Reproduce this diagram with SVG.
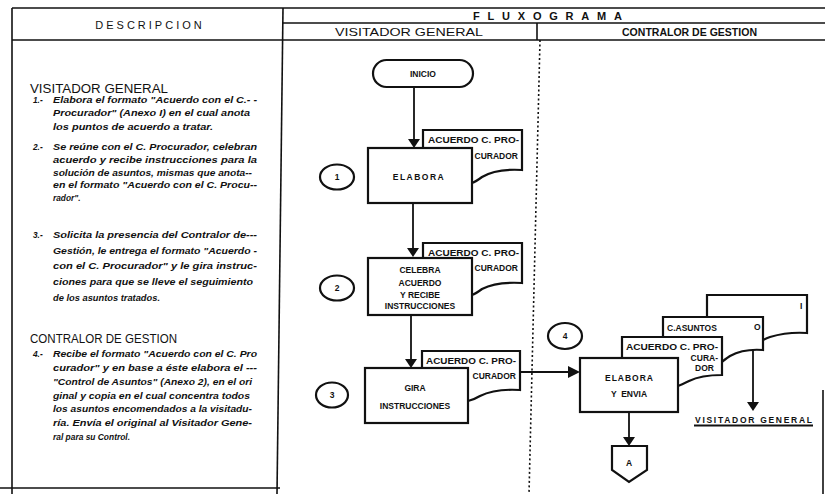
<svg xmlns="http://www.w3.org/2000/svg" width="825" height="494" viewBox="0 0 825 494">
<style>
.frame{stroke:#111;stroke-width:1.6;fill:none}
.dot{stroke:#111;stroke-width:1.6;fill:none;stroke-dasharray:2 2.5}
.ln{stroke:#111;stroke-width:1.8;fill:none}
.box{fill:#fff;stroke:#111;stroke-width:2.2}
.doc{fill:#fff;stroke:#111;stroke-width:2.2}
.arr{fill:#111}
.h{font-family:"Liberation Sans",Arial,sans-serif;fill:#111}
.ft{font-family:"Liberation Sans",Arial,sans-serif;font-weight:bold;fill:#111;font-size:8.5px}
.d{font-family:"Liberation Sans",Arial,sans-serif;font-style:italic;font-weight:bold;font-size:8.3px;fill:#111}
</style>
<defs>
<path id="ad" d="M-6,0 L6,0 L0,9 Z"/>
</defs>
<rect width="825" height="494" fill="#fff"/>
<g id="frame">
<line class="frame" x1="12" y1="8" x2="825" y2="8"/>
<line class="frame" x1="283" y1="23" x2="825" y2="23"/>
<line class="frame" x1="12" y1="40" x2="825" y2="40"/>
<line class="frame" x1="12" y1="8" x2="12" y2="494"/>
<line class="frame" x1="283" y1="8" x2="277" y2="494"/>
<line class="frame" x1="537" y1="23" x2="537" y2="40"/>
<line class="dot" x1="540" y1="40" x2="529" y2="494"/>
<line class="frame" x1="823" y1="390" x2="823" y2="494"/>
<line class="frame" x1="0" y1="488" x2="280" y2="488"/>
<text class="h" x="150" y="29" font-size="11" text-anchor="middle" letter-spacing="3">DESCRIPCION</text>
<text class="h" x="473" y="20" font-size="11" font-weight="bold" textLength="149" lengthAdjust="spacing">FLUXOGRAMA</text>
<text class="h" x="335" y="36" font-size="11" textLength="148" lengthAdjust="spacingAndGlyphs">VISITADOR GENERAL</text>
<text class="h" x="622" y="36" font-size="11" font-weight="bold" textLength="135" lengthAdjust="spacingAndGlyphs">CONTRALOR DE GESTION</text>
</g>
<g id="descripcion">
<text class="h" x="30" y="93" font-size="12.5" textLength="138" lengthAdjust="spacingAndGlyphs">VISITADOR GENERAL</text>
<text class="d" x="33" y="103">1.-</text>
<text class="d" x="53" y="103" textLength="204" lengthAdjust="spacingAndGlyphs">Elabora el formato "Acuerdo con el C.- -</text>
<text class="d" x="53" y="116" textLength="197" lengthAdjust="spacingAndGlyphs">Procurador" (Anexo I) en el cual anota</text>
<text class="d" x="53" y="130" textLength="160" lengthAdjust="spacingAndGlyphs">los puntos de acuerdo a tratar.</text>
<text class="d" x="33" y="150">2.-</text>
<text class="d" x="53" y="150" textLength="204" lengthAdjust="spacingAndGlyphs">Se reúne con el C. Procurador, celebran</text>
<text class="d" x="53" y="163" textLength="204" lengthAdjust="spacingAndGlyphs">acuerdo y recibe instrucciones para la</text>
<text class="d" x="53" y="176" textLength="199" lengthAdjust="spacingAndGlyphs">solución de asuntos, mismas que anota--</text>
<text class="d" x="53" y="188" textLength="204" lengthAdjust="spacingAndGlyphs">en el formato "Acuerdo con el C. Procu--</text>
<text class="d" x="53" y="201">rador".</text>
<text class="d" x="33" y="238">3.-</text>
<text class="d" x="53" y="238" textLength="204" lengthAdjust="spacingAndGlyphs">Solicita la presencia del Contralor de---</text>
<text class="d" x="53" y="254" textLength="204" lengthAdjust="spacingAndGlyphs">Gestión, le entrega el formato "Acuerdo -</text>
<text class="d" x="53" y="269" textLength="204" lengthAdjust="spacingAndGlyphs">con el C. Procurador" y le gira instruc-</text>
<text class="d" x="53" y="285" textLength="200" lengthAdjust="spacingAndGlyphs">ciones para que se lleve el seguimiento</text>
<text class="d" x="53" y="301" textLength="107" lengthAdjust="spacingAndGlyphs">de los asuntos tratados.</text>
<text class="h" x="30" y="343" font-size="12.5" textLength="147" lengthAdjust="spacingAndGlyphs">CONTRALOR  DE  GESTION</text>
<text class="d" x="33" y="357">4.-</text>
<text class="d" x="53" y="357" textLength="204" lengthAdjust="spacingAndGlyphs">Recibe el formato "Acuerdo con el C. Pro</text>
<text class="d" x="53" y="371" textLength="204" lengthAdjust="spacingAndGlyphs">curador" y en base a éste elabora el ---</text>
<text class="d" x="53" y="385" textLength="199" lengthAdjust="spacingAndGlyphs">"Control de Asuntos" (Anexo 2), en el ori</text>
<text class="d" x="53" y="399" textLength="197" lengthAdjust="spacingAndGlyphs">ginal y copia en el cual concentra todos</text>
<text class="d" x="53" y="412" textLength="199" lengthAdjust="spacingAndGlyphs">los asuntos encomendados a la visitadu-</text>
<text class="d" x="53" y="426" textLength="199" lengthAdjust="spacingAndGlyphs">ría. Envía el original al Visitador Gene-</text>
<text class="d" x="53" y="440" textLength="77" lengthAdjust="spacingAndGlyphs">ral para su Control.</text>
</g>
<g id="connectors">
<line class="ln" x1="414" y1="87" x2="414" y2="140"/>
<use href="#ad" class="arr" x="414" y="139"/>
<line class="ln" x1="413" y1="203" x2="413" y2="249"/>
<use href="#ad" class="arr" x="413" y="248"/>
<line class="ln" x1="411" y1="315" x2="411" y2="360"/>
<use href="#ad" class="arr" x="411" y="359"/>
<line class="ln" x1="520" y1="372" x2="570" y2="372"/>
<path class="arr" d="M568,366 L580,372 L568,378 Z"/>
<line class="ln" x1="629" y1="412" x2="629" y2="439"/>
<use href="#ad" class="arr" x="629" y="437"/>
<line class="ln" x1="753" y1="350" x2="753" y2="404"/>
<use href="#ad" class="arr" x="753" y="402"/>
</g>
<g id="inicio">
<rect class="box" x="373" y="60" width="100" height="27" rx="13.5"/>
<text class="ft" x="423" y="77" text-anchor="middle">INICIO</text>
</g>
<g id="doc1">
<path class="doc" d="M423,130 H522 V170 C505,169 492,171 482,177 C478,180 475,182 472,183 L423,190 Z"/>
<text class="ft" x="428" y="143" textLength="91" lengthAdjust="spacingAndGlyphs">ACUERDO C. PRO-</text>
<text class="ft" x="518" y="159" text-anchor="end">CURADOR</text>
</g>
<g id="n1">
<rect class="box" x="368" y="148" width="104" height="55"/>
<text class="ft" x="419" y="180" text-anchor="middle" font-size="9" letter-spacing="1.5">ELABORA</text>
</g>
<g id="c1">
<ellipse class="box" cx="337" cy="177" rx="17" ry="12.5"/>
<text class="ft" x="337" y="180" text-anchor="middle">1</text>
</g>
<g id="doc2">
<path class="doc" d="M423,243 H522 V283 C505,282 492,284 482,289 C478,292 475,294 472,295 L423,300 Z"/>
<text class="ft" x="428" y="256" textLength="91" lengthAdjust="spacingAndGlyphs">ACUERDO C. PRO-</text>
<text class="ft" x="518" y="271" text-anchor="end">CURADOR</text>
</g>
<g id="n2">
<rect class="box" x="368" y="258" width="104" height="57"/>
<text class="ft" x="420" y="273" text-anchor="middle">CELEBRA</text>
<text class="ft" x="420" y="286" text-anchor="middle">ACUERDO</text>
<text class="ft" x="420" y="298" text-anchor="middle">Y RECIBE</text>
<text class="ft" x="420" y="309" text-anchor="middle">INSTRUCCIONES</text>
</g>
<g id="c2">
<ellipse class="box" cx="337" cy="288" rx="17" ry="12.5"/>
<text class="ft" x="337" y="291" text-anchor="middle">2</text>
</g>
<g id="doc3">
<path class="doc" d="M422,351 H520 V390 C503,389 490,391 480,396 C475,399 472,400 468,401 L422,405 Z"/>
<text class="ft" x="426" y="364" textLength="90" lengthAdjust="spacingAndGlyphs">ACUERDO C. PRO-</text>
<text class="ft" x="516" y="379" text-anchor="end">CURADOR</text>
</g>
<g id="n3">
<rect class="box" x="365" y="368" width="103" height="55"/>
<text class="ft" x="415" y="391" text-anchor="middle">GIRA</text>
<text class="ft" x="415" y="409" text-anchor="middle">INSTRUCCIONES</text>
</g>
<g id="c3">
<ellipse class="box" cx="332" cy="395" rx="16" ry="12.5"/>
<text class="ft" x="332" y="398" text-anchor="middle">3</text>
</g>
<g id="docI">
<path class="doc" d="M707,295 H807 V333 C792,332 780,334 770,337 C767,338 765,339 763,340 L707,345 Z"/>
<text class="ft" x="800" y="309">I</text>
</g>
<g id="docCA">
<path class="doc" d="M663,317 H763 V350 C750,349 739,351 730,356 C727,358 724,360 722,362 L663,365 Z"/>
<text class="ft" x="667" y="331">C.ASUNTOS</text>
<text class="ft" x="754" y="330">O</text>
</g>
<g id="doc4">
<path class="doc" d="M622,337 H722 V375 C708,375 697,377 689,381 C685,383 681,385 678,386 L622,390 Z"/>
<text class="ft" x="626" y="350" textLength="92" lengthAdjust="spacingAndGlyphs">ACUERDO C. PRO-</text>
<text class="ft" x="718" y="361" text-anchor="end">CURA-</text>
<text class="ft" x="714" y="371" text-anchor="end">DOR</text>
</g>
<g id="n4">
<rect class="box" x="580" y="358" width="98" height="54"/>
<text class="ft" x="629" y="381" text-anchor="middle" textLength="48" lengthAdjust="spacing">ELABORA</text>
<text class="ft" x="629" y="397" text-anchor="middle" xml:space="preserve">Y  ENVIA</text>
</g>
<g id="c4">
<ellipse class="box" cx="565" cy="336" rx="17" ry="13"/>
<text class="ft" x="565" y="339" text-anchor="middle">4</text>
</g>
<g id="connA">
<path class="box" d="M612,446 H647 V470 L629,482 L612,470 Z"/>
<text class="ft" x="629" y="466" text-anchor="middle">A</text>
</g>
<g id="destino">
<text class="ft" x="695" y="423" font-size="9" textLength="117" lengthAdjust="spacing">VISITADOR   GENERAL</text>
<line x1="694" y1="425.5" x2="813" y2="425.5" stroke="#111" stroke-width="2"/>
</g>
</svg>
